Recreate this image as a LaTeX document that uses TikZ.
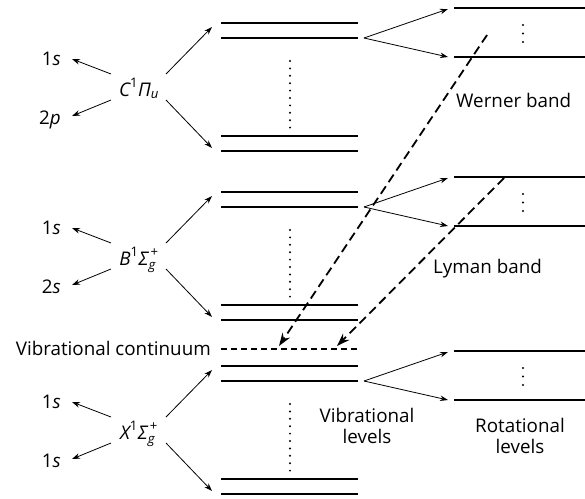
\documentclass[tikz,border=0pt]{standalone}
\usepackage{fontspec}
\usepackage{amsmath}
\setmainfont{Open Sans}
\newfontfamily\grk{Open Sans}
\usetikzlibrary{arrows.meta}
\tikzset{
  lvl/.style={line width=2pt},
  arr/.style={line width=0.8pt,-{Stealth[length=8pt,width=5.5pt]}},
  dasharr/.style={line width=1.8pt,dash pattern=on 9pt off 5pt,-{Stealth[length=13pt,width=9pt]}},
  lbl/.style={font=\fontsize{18.8}{20.5}\selectfont,inner sep=0pt},
  dotmark/.style={fill=black}
}
\newcommand\levelgroup[5]{%
\begin{scope}[shift={(0,#2)}]
  \draw[lvl] (221,0) coordinate (#1m1w) -- (358,0) coordinate (#1m1e);
  \draw[lvl] (221,15) coordinate (#1m2w) -- (358,15) coordinate (#1m2e);
  \draw[lvl] (221,113) coordinate (#1m3w) -- (358,113) coordinate (#1m3e);
  \draw[lvl] (221,128) coordinate (#1m4w) -- (358,128) coordinate (#1m4e);
  \draw[lvl] (454,-15) coordinate (#1r1w) -- (585,-15) coordinate (#1r1e);
  \draw[lvl] (454,34) coordinate (#1r2w) -- (585,34) coordinate (#1r2e);
  \foreach \k in {0,...,9} \fill[dotmark] (290,38+\k*7.4) circle (1.1);
  \foreach \k in {0,1,2} \fill[dotmark] (523,2+\k*8.5) circle (1.1);
  \node[lbl,anchor=base] (#1lab) at (139,73) {#3};
  \node[lbl,anchor=base east] (#1up) at (61,42) {#4};
  \node[lbl,anchor=base east] (#1lo) at (61,101) {#5};
  \draw[arr] ([shift={(-28,-22)}]#1lab.base) -- ([shift={(11,-6)}]#1up.base east);
  \draw[arr] ([shift={(-28,4)}]#1lab.base) -- ([shift={(11,-8)}]#1lo.base east);
  \draw[arr] ([shift={(27,-22)}]#1lab.base) -- ([shift={(-9,4)}]#1m1w);
  \draw[arr] ([shift={(27,4)}]#1lab.base) -- ([shift={(-9,-3)}]#1m4w);
  \draw[arr] ([shift={(6,0)}]#1m2e) -- ([shift={(-6,1)}]#1r1w);
  \draw[arr] ([shift={(6,0)}]#1m2e) -- ([shift={(-6,0)}]#1r2w);
\end{scope}}
\begin{document}
\begin{tikzpicture}[x=1pt,y=-1pt]
\useasboundingbox (0,0) rectangle (585,498);
\levelgroup{C}{23}{$\textit{C}^{\text{1}}\textit{\grk Π}_{\textit{u}}$}{1\textit{s}}{2\textit{p}}
\levelgroup{B}{192}{$\textit{B}^{\text{1}}\textit{\grk Σ}_{\textit{g}}^{\,\text{+}}$}{1\textit{s}}{2\textit{s}}
\levelgroup{X}{366}{$\textit{X}^{\text{1}}\textit{\grk Σ}_{\textit{g}}^{\,\text{+}}$}{1\textit{s}}{1\textit{s}}
% vibrational continuum
\draw[line width=1.5pt,dash pattern=on 6pt off 4pt] (221,349) coordinate (cw) -- (358,349) coordinate (ce);
\node[lbl,anchor=base east] (contlab) at (211,355) {Vibrational continuum};
% dashed transitions
\coordinate (wstart) at (487,35);
\coordinate (wend) at (279,346);
\coordinate (lstart) at (504,178);
\coordinate (lend) at (337,346);
\draw[dasharr] (wstart) -- (wend);
\draw[dasharr] (lstart) -- (lend);
% texts
\node[lbl,anchor=base west] (werner) at (456,107) {Werner band};
\node[lbl,anchor=base west] (lyman) at (433,273) {Lyman band};
\node[lbl,align=center,anchor=base] (vib) at (367,443) {Vibrational\\levels};
\node[lbl,align=center,anchor=base] (rot) at (520,453) {Rotational\\levels};
\end{tikzpicture}
\end{document}
